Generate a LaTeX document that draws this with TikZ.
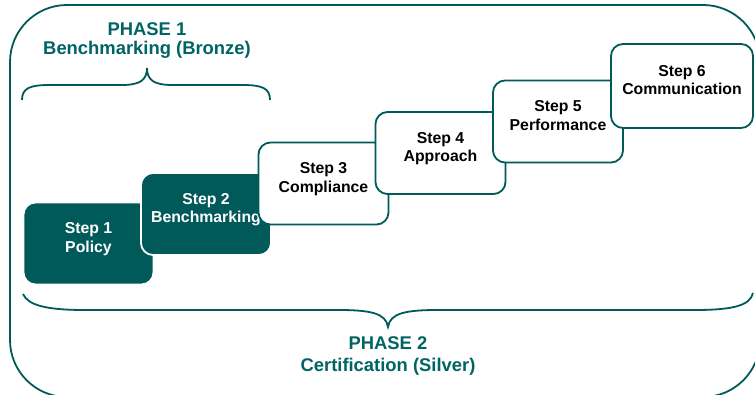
\documentclass[tikz,border=0pt]{standalone}
\usepackage{fontspec}
\setmainfont{Liberation Sans}

\definecolor{deepteal}{HTML}{005A5A}
\definecolor{phaseteal}{HTML}{006464}

% two-line step caption, lifted a little above the box centre
\newcommand{\steplabel}[2]{\raisebox{23pt}{\begin{tabular}{@{}c@{}}Step #1\\#2\end{tabular}}}

\tikzset{
  stepbox/.style={rectangle, rounded corners=12pt, minimum width=130pt, minimum height=82pt,
    inner sep=0pt, line width=1.8pt, font=\bfseries\fontsize{15.8}{18.5}\selectfont},
  darkstep/.style={stepbox, fill=deepteal, draw=white, text=white},
  lightstep/.style={stepbox, fill=white, draw=deepteal, text=black},
  phase/.style={align=center, text=phaseteal, font=\bfseries\fontsize{18.4}{18.5}\selectfont},
  braceline/.style={draw=deepteal, line width=1.8pt}
}

\begin{document}
\begin{tikzpicture}[x=1pt,y=-1pt]
  \path[use as bounding box, clip] (0,0) rectangle (755,395);

  % outer frame
  \draw[deepteal, line width=1.8pt, rounded corners=57pt] (10,5) rectangle (760,397);

  % the six steps, each one overlapping the last
  \node[darkstep] (s1) at (88.5,243.5) {\steplabel{1}{Policy}};
  \node[darkstep] (s2) at (206,214) {\steplabel{2}{Benchmarking}};
  \node[lightstep] (s3) at (323.5,183.5) {\steplabel{3}{Compliance}};
  \node[lightstep] (s4) at (440.5,153) {\steplabel{4}{Approach}};
  \node[lightstep] (s5) at (558,121.5) {\steplabel{5}{Performance}};
  \node[lightstep, minimum width=142pt, minimum height=84pt] (s6) at (682,86) {\steplabel{6}{Communication}};

  % phase captions
  \node[phase] (phase1) at (147,40.5) {PHASE 1\\Benchmarking (Bronze)};
  \node[phase, font=\bfseries\fontsize{18.4}{21.5}\selectfont] (phase2) at (388,356) {PHASE 2\\Certification (Silver)};

  % brace over steps 1-2
  \draw[braceline] (22,100) .. controls (22,88) and (30,85) .. (50,85) -- (122,85)
    .. controls (140,85) and (147,80) .. (147,68)
    .. controls (147,80) and (154,85) .. (172,85) -- (242,85)
    .. controls (262,85) and (270,88) .. (270,100);

  % brace under all steps
  \draw[braceline] (23,294) .. controls (28,305) and (45,310) .. (85,310) -- (338,310)
    .. controls (370,310) and (386,313) .. (388,327)
    .. controls (390,313) and (406,310) .. (438,310) -- (695,310)
    .. controls (735,310) and (750,305) .. (753,293);
\end{tikzpicture}
\end{document}
